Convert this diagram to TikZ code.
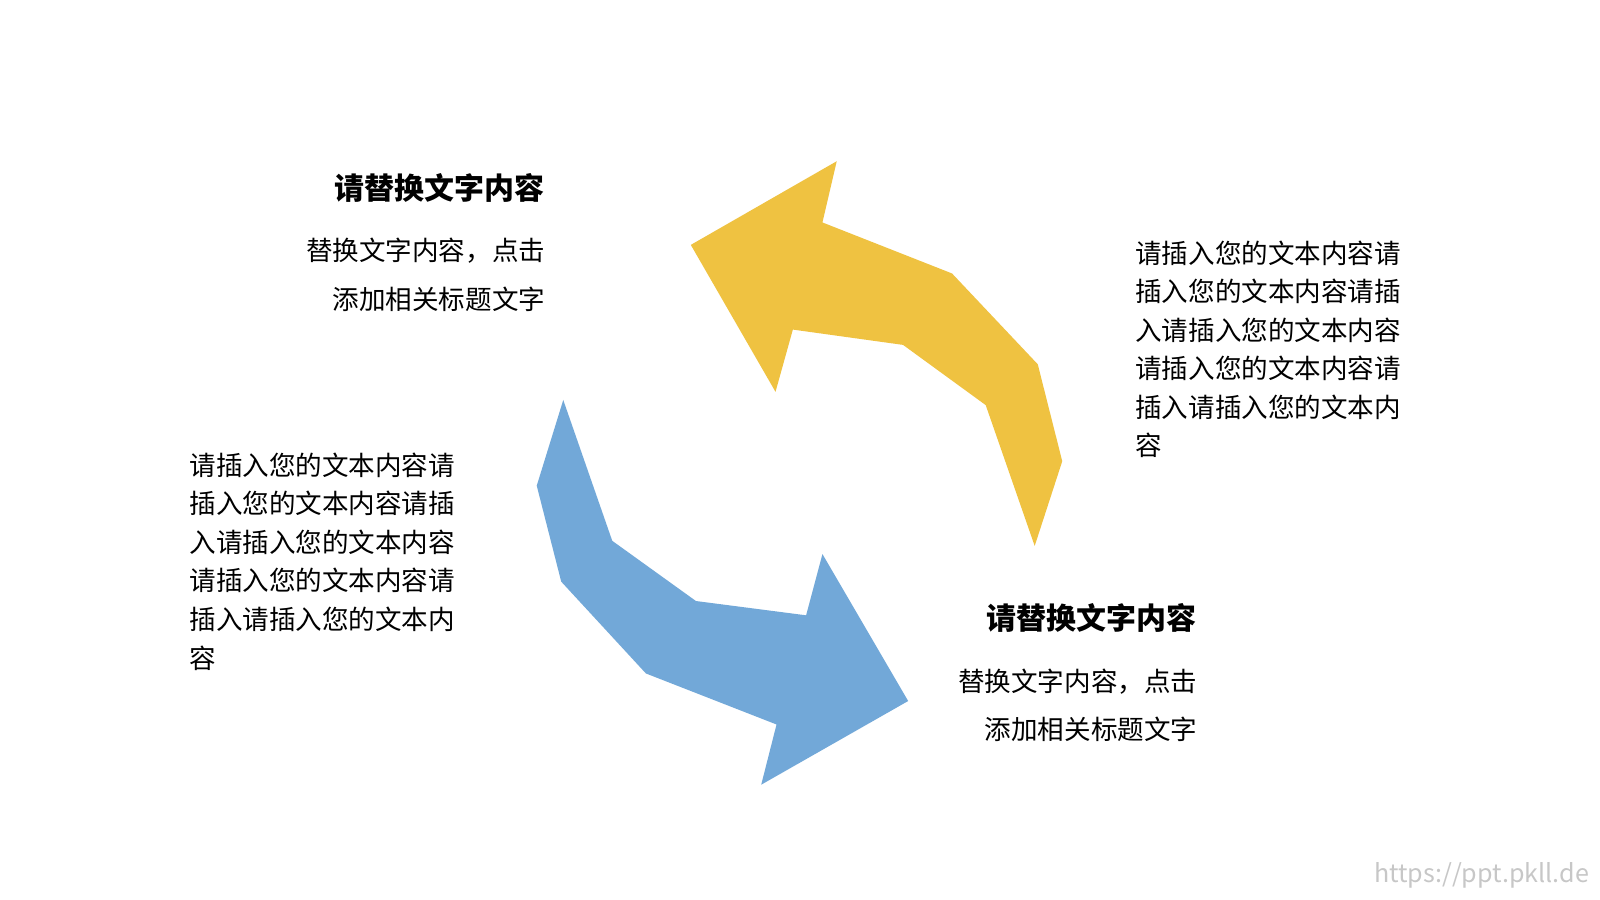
\documentclass[tikz,border=0pt]{standalone}
\usepackage{fontspec}
\setmainfont{Noto Sans CJK SC}
\begin{document}
\begin{tikzpicture}[x=0.01cm,y=-0.01cm,
 body/.style={inner sep=0,font=\fontsize{7.4pt}{13.4pt}\selectfont},
 para/.style={inner sep=0,align=left,font=\fontsize{7.4pt}{10.75pt}\selectfont},
 ttl/.style={inner sep=0,font=\fontsize{8.35pt}{9pt}\selectfont\bfseries}]
\useasboundingbox[fill=white] (0,0) rectangle (1568,882);
\fill[fill={rgb,255:red,239;green,194;blue,65}] (677,240) -- (820,158) -- (806,218) -- (933,268) -- (1017,357) -- (1041,452) -- (1014,535) -- (966,397) -- (885,338) -- (777,323) -- (760,384) -- cycle;
\fill[fill={rgb,255:red,114;green,168;blue,216}] (552,392) -- (600,530) -- (682,589) -- (790,603) -- (806,543) -- (890,687) -- (746,769) -- (761,710) -- (633,660) -- (550,570) -- (526,476) -- cycle;
\node[ttl,anchor=east] (t1) at (534,184) {请替换文字内容};
\node[body,align=right,anchor=north east] (b1) at (535,233) {替换文字内容，点击\\添加相关标题文字};
\node[ttl,anchor=east] (t2) at (1173,606) {请替换文字内容};
\node[body,align=right,anchor=north east] (b2) at (1174,655) {替换文字内容，点击\\添加相关标题文字};
\node[para,anchor=north west] (p1) at (1112,235) {请插入您的文本内容请\\插入您的文本内容请插\\入请插入您的文本内容\\请插入您的文本内容请\\插入请插入您的文本内\\容};
\node[para,anchor=north west] (p2) at (185,443) {请插入您的文本内容请\\插入您的文本内容请插\\入请插入您的文本内容\\请插入您的文本内容请\\插入请插入您的文本内\\容};
\node[inner sep=0,anchor=east,text=black!22,font=\fontsize{7pt}{8pt}\selectfont] (w) at (1558,858) {https://ppt.pkll.de};
\end{tikzpicture}
\end{document}
